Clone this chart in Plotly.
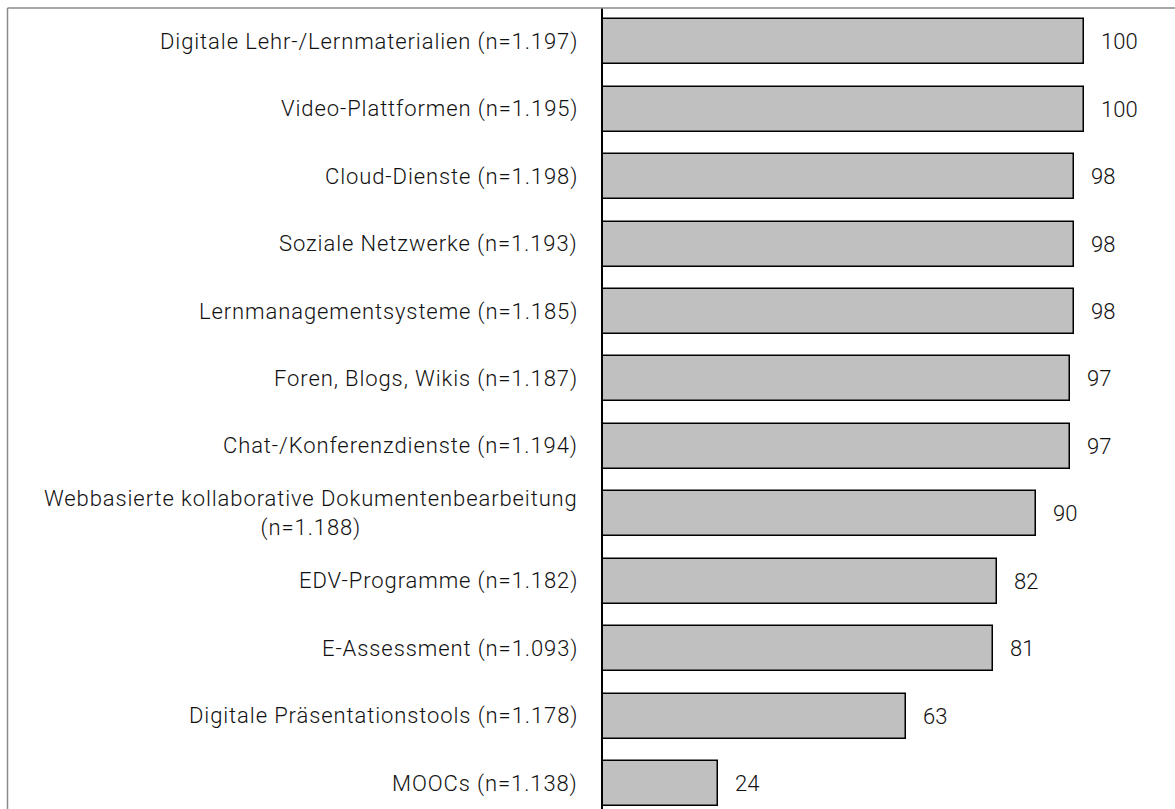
import plotly.graph_objects as go

# Nutzung digitaler Medien (Anteile in %)
categories = [
    "Digitale Lehr-/Lernmaterialien (n=1.197)",
    "Video-Plattformen (n=1.195)",
    "Cloud-Dienste (n=1.198)",
    "Soziale Netzwerke (n=1.193)",
    "Lernmanagementsysteme (n=1.185)",
    "Foren, Blogs, Wikis (n=1.187)",
    "Chat-/Konferenzdienste (n=1.194)",
    "Webbasierte kollaborative Dokumentenbearbeitung<br>(n=1.188)",
    "EDV-Programme (n=1.182)",
    "E-Assessment (n=1.093)",
    "Digitale Präsentationstools (n=1.178)",
    "MOOCs (n=1.138)",
]
values = [100, 100, 98, 98, 98, 97, 97, 90, 82, 81, 63, 24]

FONT = "Roboto"
TEXT_COLOR = "#111111"
FONT_SIZE = 22
LETTER_SPACING = "0.9px"

W, H = 1175, 809
M_L, M_T = 603, 8
PX_PER_UNIT = 4.81
PLOT_W = W - M_L
PLOT_H = H - M_T
X_MAX = PLOT_W / PX_PER_UNIT
PITCH = 67.45
Y_SPAN = PLOT_H / PITCH


def spaced(text):
    # wrap each line in a span with extra tracking
    lines = text.split("<br>")
    return "<br>".join(
        f'<span style="letter-spacing:{LETTER_SPACING}">{ln}</span>' for ln in lines
    )


fig = go.Figure()
fig.add_trace(go.Bar(
    x=values,
    y=categories,
    orientation="h",
    width=0.667,
    marker=dict(color="#c0c0c0", line=dict(color="#000000", width=1.5)),
    hoverinfo="skip",
))

label_font = dict(family=FONT, size=FONT_SIZE, color=TEXT_COLOR, weight=300)
annotations = []
for cat, val in zip(categories, values):
    # category label left of the axis
    annotations.append(dict(
        x=0, xref="paper", y=cat, yref="y",
        text=spaced(cat), showarrow=False,
        xanchor="right", yanchor="middle", align="center",
        xshift=-23,
        font=label_font,
    ))
    # value label right of the bar
    annotations.append(dict(
        x=val, xref="x", y=cat, yref="y",
        text=str(val), showarrow=False,
        xanchor="left", yanchor="middle",
        xshift=15,
        font=label_font,
    ))

# frame lines (left and top)
left_px = 7.5
x_left = (left_px - M_L) / PLOT_W
shapes = [
    dict(type="line", xref="paper", yref="paper", x0=x_left, x1=1.02, y0=1, y1=1,
         line=dict(color="#8a8a8a", width=1.5)),
    dict(type="line", xref="paper", yref="paper", x0=x_left, x1=x_left, y0=1, y1=-0.05,
         line=dict(color="#8a8a8a", width=1.5)),
]

fig.update_layout(
    width=W, height=H,
    margin=dict(l=M_L, r=0, t=M_T, b=0, pad=0),
    paper_bgcolor="white", plot_bgcolor="white",
    showlegend=False,
    bargap=0,
    annotations=annotations,
    shapes=shapes,
    xaxis=dict(range=[0, X_MAX], showgrid=False, zeroline=False,
               showticklabels=False, ticks="", showline=False, fixedrange=True),
    yaxis=dict(range=[-0.5 + Y_SPAN, -0.5], showgrid=False, zeroline=False,
               showticklabels=False, ticks="", showline=True,
               linecolor="#000000", linewidth=2, fixedrange=True),
)

fig.write_html("out.html", config={"displayModeBar": False})
